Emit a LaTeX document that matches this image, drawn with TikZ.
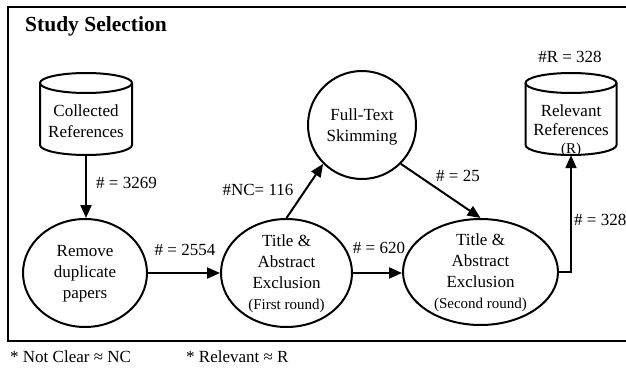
\documentclass[tikz,border=0pt]{standalone}
\usepackage{fontspec}
\setmainfont{Liberation Serif}
\usetikzlibrary{arrows.meta,shapes.geometric}
\begin{document}
\begin{tikzpicture}[x=1pt,y=-1pt,
  lbl/.style={font=\fontsize{17}{21}\selectfont, inner sep=0pt},
  txt/.style={font=\fontsize{17}{21}\selectfont, inner sep=0pt, align=center},
  ell/.style={draw, ellipse, line width=2pt, inner sep=0pt},
  cyl/.style={inner sep=0pt, minimum width=92pt, minimum height=82pt},
  cylline/.style={line width=2pt},
  arr/.style={line width=2pt, -{Triangle[length=13pt,width=11pt]}},
  smalltxt/.style={font=\fontsize{15}{18}\selectfont}
]
\useasboundingbox (0,0) rectangle (626,369);
\begin{scope}
  \clip (0,0) rectangle (626,369);
  \draw[line width=2.5pt] (8,7) rectangle (640,341);
\end{scope}

\node[font=\fontsize{21.5}{24}\selectfont\bfseries, anchor=west, inner sep=0pt] (title) at (25,26) {Study Selection};

% cylinders
\node[cyl] (cr) at (86,114) {};
\draw[cylline] (40,83) -- (40,145) arc[start angle=180, end angle=360, x radius=46pt, y radius=10pt] -- (132,83);
\draw[cylline] (86,83) ellipse [x radius=46pt, y radius=10pt];
\node[txt] at (86,121) {Collected\\References};

\node[cyl, minimum width=91pt] (rr) at (571,114) {};
\draw[cylline] (525.5,83) -- (525.5,145) arc[start angle=180, end angle=360, x radius=45.5pt, y radius=10pt] -- (616.5,83);
\draw[cylline] (571,83) ellipse [x radius=45.5pt, y radius=10pt];
\node[txt, font=\fontsize{17}{18.5}\selectfont] at (571,131) {Relevant\\References\\{\fontsize{15}{18}\selectfont (R)}};

% ellipses
\node[ell, minimum width=124pt, minimum height=108pt] (rd) at (85,273) {};
\node[txt] at (85,274) {Remove\\duplicate\\papers};

\node[ell, minimum width=131pt, minimum height=108pt] (t1) at (286.5,273) {};
\node[txt] at (286.5,274) {Title \&\\Abstract\\Exclusion\\{\fontsize{15}{18}\selectfont (First round)}};

\node[ell, minimum width=155pt, minimum height=106pt] (t2) at (480.5,272) {};
\node[txt] at (480.5,273) {Title \&\\Abstract\\Exclusion\\{\fontsize{15}{18}\selectfont (Second round)}};

\node[draw, circle, line width=2pt, minimum size=108pt, inner sep=0pt] (ft) at (362,125) {};
\node[txt] at (362,127) {Full-Text\\Skimming};

% connectors
\draw[arr] (cr.south) -- (cr.south |- rd.north);
\draw[arr] (rd.east) -- (t1.west);
\draw[arr] (t1.north) -- (ft.-135);
\draw[arr] (ft.-45) -- (t2.north);
\draw[arr] (t1.east) -- (t1.east -| t2.west);
\draw[arr] (t2.east) -| (rr.south);

% labels
\node[lbl, anchor=west] (l1) at (96,183) {\# = 3269};
\node[lbl] (l2) at (185,250) {\# = 2554};
\node[lbl] (l3) at (258,190) {\#NC= 116};
\node[lbl] (l4) at (379,248) {\# = 620};
\node[lbl] (l5) at (458,176) {\# = 25};
\node[lbl, anchor=west] (l6) at (574,220) {\# = 328};
\node[lbl] (l7) at (570,57) {\#R = 328};

\node[lbl, anchor=west] (n1) at (10,357) {* Not Clear ≈ NC};
\node[lbl, anchor=west] (n2) at (186,357) {* Relevant ≈ R};
\end{tikzpicture}
\end{document}
